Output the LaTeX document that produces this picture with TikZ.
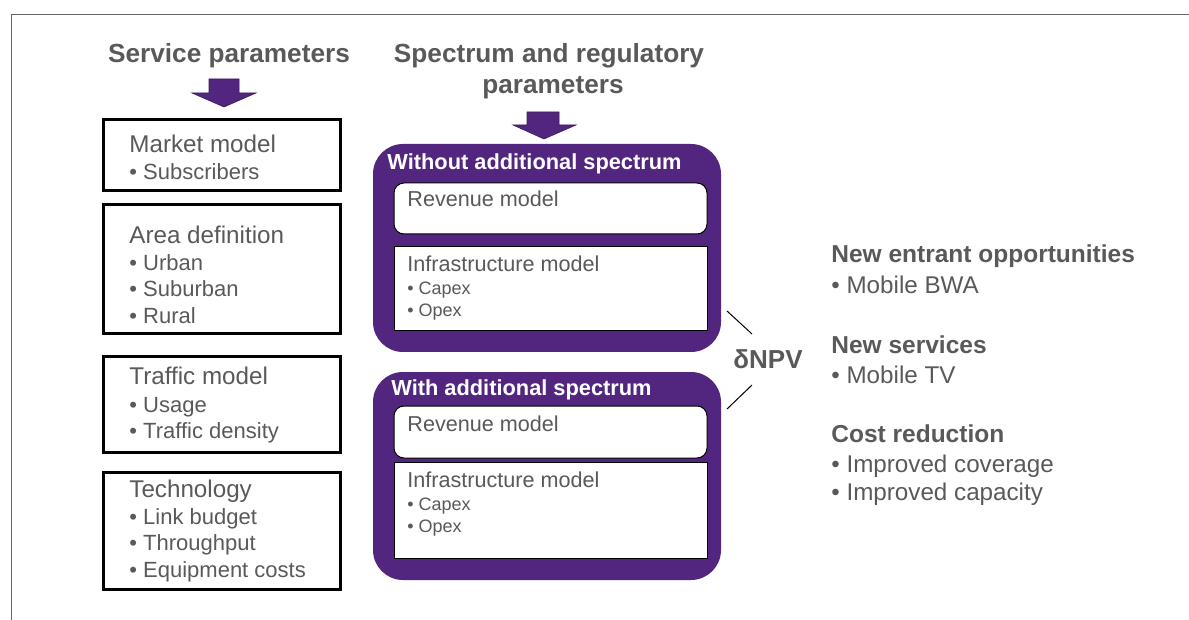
\documentclass[tikz,border=0pt]{standalone}
\usepackage{fontspec}
\setmainfont{Liberation Sans}
\definecolor{txtgray}{HTML}{595959}
\definecolor{spurple}{HTML}{52267F}

\tikzset{
  head/.style={font=\bfseries\fontsize{13.1}{15}\selectfont, text=txtgray, inner sep=0pt},
  rhead/.style={font=\bfseries\fontsize{12.25}{14}\selectfont, text=txtgray, inner sep=0pt, anchor=base west},
  lbl/.style={font=\fontsize{12.1}{14}\selectfont, text=txtgray, inner sep=0pt, anchor=base west},
  itm/.style={font=\fontsize{11}{13}\selectfont, text=txtgray, inner sep=0pt, anchor=base west},
  smlbl/.style={font=\fontsize{10.8}{12}\selectfont, text=txtgray, inner sep=0pt, anchor=base west},
  smitm/.style={font=\fontsize{9}{11}\selectfont, text=txtgray, inner sep=0pt, anchor=base west},
  ptitle/.style={font=\bfseries\fontsize{10.9}{13}\selectfont, text=white, inner sep=0pt, anchor=base west},
  leftbox/.style={draw=black, line width=1.5pt},
  pbox/.style={fill=spurple, rounded corners=15pt},
  wbox/.style={fill=white, draw=black, line width=0.5pt},
  blockarrow/.style={fill=spurple, draw=spurple!70!black, line width=0.3pt},
}

\begin{document}
\begin{tikzpicture}[x=0.5pt,y=-0.5pt]
\useasboundingbox (0,0) rectangle (1189,620);
\draw[gray!80!black, line width=0.5pt] (11,620) -- (11,15) -- (1189,15);

% headings and block arrows
\node[head, anchor=base] (svc) at (229,63) {Service parameters};
\node[head, anchor=base] (spec) at (549,63) {Spectrum and regulatory};
\node[head, anchor=base] (spec2) at (553,94) {parameters};
\filldraw[blockarrow] (209,79) -- (239,79) -- (239,93) -- (256,93) -- (224,107) -- (192,93) -- (209,93) -- cycle;
\filldraw[blockarrow] (527,112) -- (559,112) -- (559,125) -- (576,125) -- (544,139) -- (513,125) -- (527,125) -- cycle;

% service parameter boxes
\draw[leftbox] (103,120) rectangle (340,191);
\node[lbl] (mkt) at (129,153) {Market model};
\node[itm] (mkt1) at (129,180) {• Subscribers};

\draw[leftbox] (103,205) rectangle (340,334);
\node[lbl] (area) at (129,244) {Area definition};
\node[itm] (area1) at (129,271) {• Urban};
\node[itm] (area2) at (129,297) {• Suburban};
\node[itm] (area3) at (129,323) {• Rural};

\draw[leftbox] (103,357) rectangle (340,452);
\node[lbl] (trf) at (129,385) {Traffic model};
\node[itm] (trf1) at (129,412) {• Usage};
\node[itm] (trf2) at (129,438) {• Traffic density};

\draw[leftbox] (103,472) rectangle (340,589);
\node[lbl] (tech) at (129,497) {Technology};
\node[itm] (tech1) at (129,524) {• Link budget};
\node[itm] (tech2) at (129,550) {• Throughput};
\node[itm] (tech3) at (129,577) {• Equipment costs};

% without additional spectrum
\fill[pbox] (373,144) rectangle (721,352);
\node[ptitle] (wo) at (387,170) {Without additional spectrum};
\filldraw[wbox, rounded corners=5pt] (394,183) rectangle (707,234);
\node[smlbl] (wo-rev) at (407,207) {Revenue model};
\filldraw[wbox] (394,247) rectangle (707,331);
\node[smlbl] (wo-inf) at (407,272) {Infrastructure model};
\node[smitm] (wo-inf1) at (407,295) {• Capex};
\node[smitm] (wo-inf2) at (407,317) {• Opex};

% with additional spectrum
\fill[pbox] (373,372) rectangle (721,580);
\node[ptitle] (wi) at (391,395) {With additional spectrum};
\filldraw[wbox, rounded corners=5pt] (394,406) rectangle (707,458);
\node[smlbl] (wi-rev) at (407,431) {Revenue model};
\filldraw[wbox] (394,462) rectangle (707,558);
\node[smlbl] (wi-inf) at (407,487) {Infrastructure model};
\node[smitm] (wi-inf1) at (407,510) {• Capex};
\node[smitm] (wi-inf2) at (407,532) {• Opex};

% delta NPV
\node[head, font=\bfseries\fontsize{13}{15}\selectfont, anchor=base] (npv) at (768,368) {δNPV};
\coordinate (wo-end) at (727,311);
\coordinate (wi-end) at (727,409);
\coordinate (npv-up) at (752,334);
\coordinate (npv-dn) at (752,385);
\draw[line width=0.5pt] (wo-end) -- (npv-up);
\draw[line width=0.5pt] (wi-end) -- (npv-dn);

% outcomes
\node[rhead] (newent) at (831,263) {New entrant opportunities};
\node[lbl] (newent1) at (831,293) {• Mobile BWA};
\node[rhead] (newsrv) at (831,354) {New services};
\node[lbl] (newsrv1) at (831,383) {• Mobile TV};
\node[rhead] (cost) at (831,442) {Cost reduction};
\node[lbl] (cost1) at (831,472) {• Improved coverage};
\node[lbl] (cost2) at (831,500) {• Improved capacity};
\end{tikzpicture}
\end{document}
